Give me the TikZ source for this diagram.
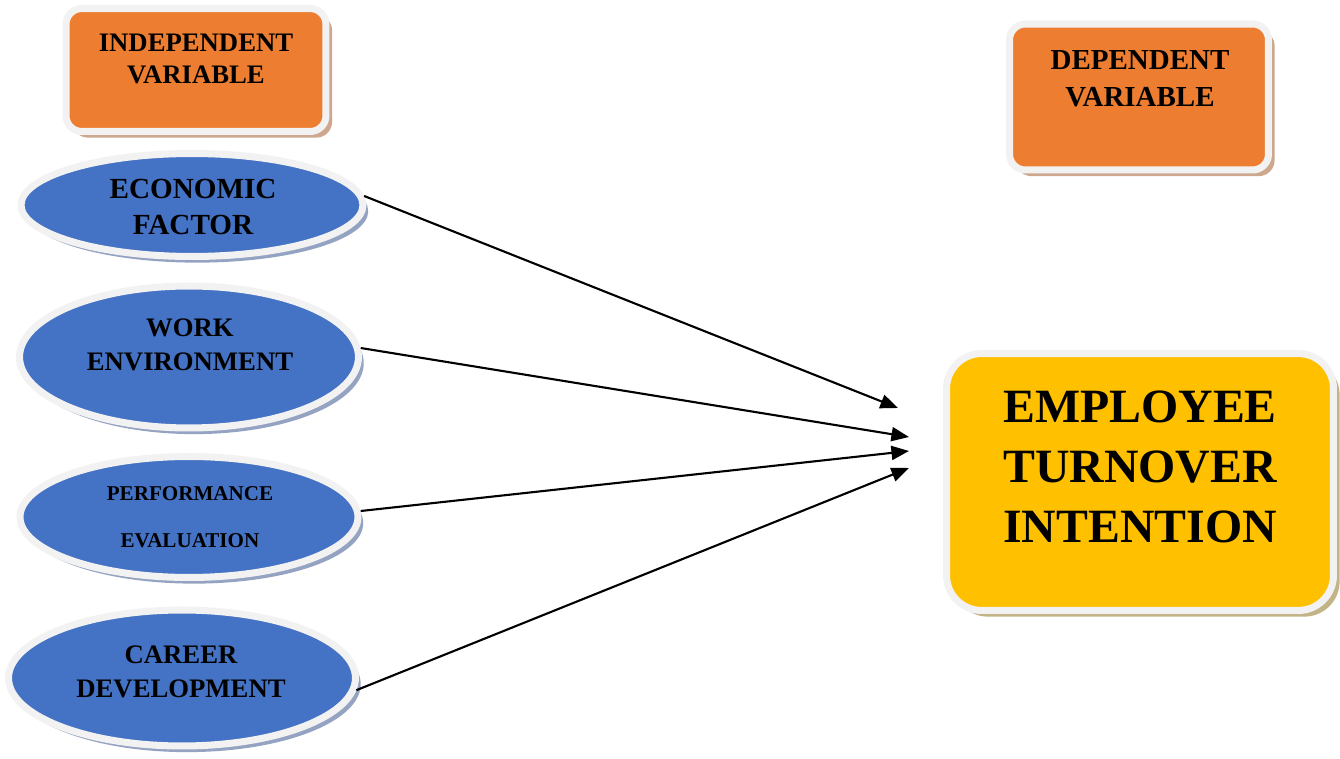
\documentclass[tikz,border=0pt]{standalone}
\usepackage{fontspec}
\setmainfont{Liberation Serif}
\usetikzlibrary{arrows.meta, shadows, shapes.geometric}

\definecolor{ringgray}{HTML}{F2F2F2}
\definecolor{varorange}{HTML}{ED7D31}
\definecolor{varshade}{HTML}{CDA88E}
\definecolor{ovalblue}{HTML}{4472C4}
\definecolor{ovalshade}{HTML}{95A3C2}
\definecolor{outyellow}{HTML}{FFC000}
\definecolor{outshade}{HTML}{C3B487}

\begin{document}
\begin{tikzpicture}[x=0.02cm, y=-0.02cm,
  ring/.style={draw=ringgray, line width=4pt},
  varbox/.style={ring, rectangle, rounded corners=9pt, fill=varorange, inner sep=0pt,
    drop shadow={shadow xshift=3.5pt, shadow yshift=-3.5pt, fill=varshade, opacity=1}},
  oval/.style={ring, ellipse, fill=ovalblue, inner sep=0pt,
    drop shadow={shadow xshift=3pt, shadow yshift=-3.5pt, fill=ovalshade, opacity=1}},
  outbox/.style={ring, rectangle, rounded corners=20pt, fill=outyellow, inner sep=0pt,
    drop shadow={shadow xshift=3.5pt, shadow yshift=-3.5pt, fill=outshade, opacity=1}},
  txt/.style={align=center, inner sep=0pt, text=black},
  link/.style={-{Triangle[length=10pt, width=8pt]}, line width=1.2pt}]

\useasboundingbox (0,0) rectangle (1340,759);

% headings
\node[varbox, minimum width=5.2cm, minimum height=2.46cm] (indep) at (196,70) {};
\node[txt, font=\bfseries\fontsize{15.2}{18}\selectfont] (indep-label) at (196,59)
{INDEPENDENT\\VARIABLE};

\node[varbox, minimum width=5.18cm, minimum height=2.92cm] (dep) at (1139,97) {};
\node[txt, font=\bfseries\fontsize{16.5}{21}\selectfont] (dep-label) at (1140,79)
{DEPENDENT\\VARIABLE};

% factors
\node[oval, minimum width=6.84cm, minimum height=2.06cm] (econ) at (192,205) {};
\node[txt, font=\bfseries\fontsize{16.6}{20}\selectfont] (econ-label) at (193,207)
{ECONOMIC\\FACTOR};

\node[oval, minimum width=6.78cm, minimum height=2.84cm] (work) at (189,357) {};
\node[txt, font=\bfseries\fontsize{15.2}{19}\selectfont] (work-label) at (190,345)
{WORK\\ENVIRONMENT};

\node[oval, minimum width=6.76cm, minimum height=2.42cm] (perf) at (189,517) {};
\node[txt, font=\bfseries\fontsize{12}{27}\selectfont] (perf-label) at (190,517)
{PERFORMANCE\\EVALUATION};

\node[oval, minimum width=6.94cm, minimum height=2.72cm] (career) at (182,678) {};
\node[txt, font=\bfseries\fontsize{15.2}{19}\selectfont] (career-label) at (181,672)
{CAREER\\DEVELOPMENT};

% outcome
\node[outbox, minimum width=7.74cm, minimum height=5.14cm] (turn) at (1140,482) {};
\node[txt, font=\bfseries\fontsize{27.2}{34}\selectfont] (turn-label) at (1140,467)
{EMPLOYEE\\TURNOVER\\INTENTION};

\coordinate (in1) at (898,408);
\coordinate (in2) at (909,437);
\coordinate (in3) at (909,451);
\coordinate (in4) at (909,468);

\draw[link] (econ.3) -- (in1);
\draw[link] (work.3) -- (in2);
\draw[link] (perf.2) -- (in3);
\draw[link] (career.-4) -- (in4);

\end{tikzpicture}
\end{document}
